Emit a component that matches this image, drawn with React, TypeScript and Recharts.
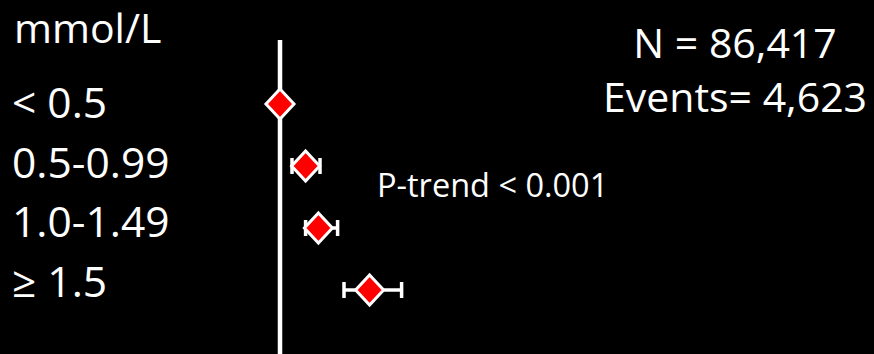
import React from 'react';
import {
  ComposedChart,
  Scatter,
  XAxis,
  YAxis,
  ErrorBar,
  ReferenceLine,
} from 'recharts';

// Forest plot: hazard ratio with 95% CI per concentration band
const groups = ['< 0.5', '0.5-0.99', '1.0-1.49', '≥ 1.5'];
const hazardRatios = [1.0, 1.16, 1.24, 1.56];
const lowerCI = [1.0, 1.075, 1.16, 1.4];
const upperCI = [1.0, 1.25, 1.36, 1.76];

const unitLabel = 'mmol/L';
const totalN = 'N = 86,417';
const totalEvents = 'Events= 4,623';
const trendText = 'P-trend < 0.001';

const rows = groups.map((group, i) => ({
  group,
  hr: hazardRatios[i],
  ci: [hazardRatios[i] - lowerCI[i], upperCI[i] - hazardRatios[i]],
}));

const FONT = '"Open Sans", sans-serif';

const Diamond = (props: any) => {
  const { cx, cy } = props;
  if (cx == null || cy == null) return null;
  const hw = 14;
  const hh = 15;
  return (
    <polygon
      points={`${cx},${cy - hh} ${cx + hw},${cy} ${cx},${cy + hh} ${cx - hw},${cy}`}
      fill="#FF0000"
      stroke="#FFFFFF"
      strokeWidth={3}
      strokeLinejoin="miter"
    />
  );
};

const GroupTick = (props: any) => {
  const { y, payload } = props;
  return (
    <text
      x={12}
      y={y}
      dy={12}
      fill="#FFFFFF"
      fontSize={42.5}
      fontFamily={FONT}
      textAnchor="start"
    >
      {payload.value}
    </text>
  );
};

export default function App() {
  return (
    <div
      style={{
        position: 'absolute',
        left: 0,
        top: 0,
        width: 874,
        height: 354,
        background: '#000000',
      }}
    >
      <ComposedChart
        width={874}
        height={354}
        data={rows}
        layout="vertical"
        margin={{ top: 40, right: 34, bottom: 0, left: 0 }}
      >
        <XAxis
          type="number"
          dataKey="hr"
          domain={[0.5, 4.5]}
          allowDataOverflow
          hide
        />
        <YAxis
          yAxisId="rows"
          type="category"
          dataKey="group"
          padding={{ top: 64, bottom: 64 }}
          hide
        />
        <YAxis
          yAxisId="labels"
          type="category"
          dataKey="group"
          width={200}
          padding={{ top: 66.3, bottom: 69.3 }}
          axisLine={false}
          tickLine={false}
          tick={<GroupTick />}
        />
        <ReferenceLine
          x={1}
          yAxisId="rows"
          stroke="#FFFFFF"
          strokeWidth={4.5}
        />
        <Scatter
          yAxisId="rows"
          dataKey="hr"
          shape={<Diamond />}
          isAnimationActive={false}
        >
          <ErrorBar
            dataKey="ci"
            direction="x"
            width={8}
            stroke="#FFFFFF"
            strokeWidth={3.5}
            isAnimationActive={false}
          />
        </Scatter>
        <text x={14} y={43} fill="#FFFFFF" fontSize={41} fontFamily={FONT}>
          {unitLabel}
        </text>
        <text
          x={735}
          y={58}
          fill="#FFFFFF"
          fontSize={41}
          fontFamily={FONT}
          textAnchor="middle"
        >
          {totalN}
        </text>
        <text
          x={735}
          y={112}
          fill="#FFFFFF"
          fontSize={41}
          fontFamily={FONT}
          textAnchor="middle"
        >
          {totalEvents}
        </text>
        <text x={377} y={197} fill="#FFFFFF" fontSize={32.5} fontFamily={FONT}>
          {trendText}
        </text>
      </ComposedChart>
    </div>
  );
}
